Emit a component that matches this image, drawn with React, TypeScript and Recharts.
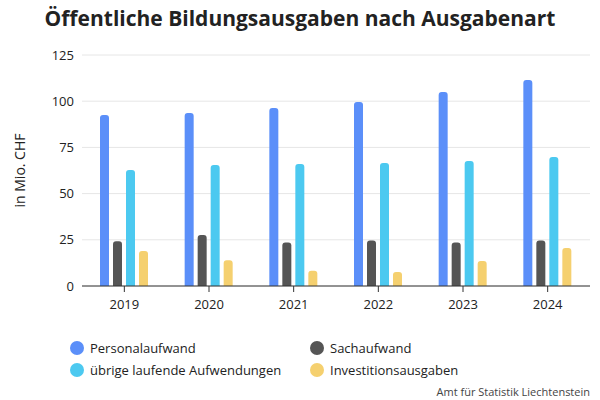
import React from "react";
import { BarChart, Bar, XAxis, YAxis, CartesianGrid } from "recharts";

const years = ["2019", "2020", "2021", "2022", "2023", "2024"];
const personal = [92.5, 93.6, 96.3, 99.6, 105, 111.5];
const sach = [24.2, 27.6, 23.6, 24.6, 23.6, 24.6];
const uebrige = [62.8, 65.5, 66, 66.6, 67.6, 69.8];
const invest = [19, 14, 8.2, 7.6, 13.5, 20.6];
const yTicks = [0, 25, 50, 75, 100, 125];

const series = [
  { key: "personal", name: "Personalaufwand", color: "#5b8ff9" },
  { key: "sach", name: "Sachaufwand", color: "#555555" },
  { key: "uebrige", name: "übrige laufende Aufwendungen", color: "#4cc9f0" },
  { key: "invest", name: "Investitionsausgaben", color: "#f5d06f" },
];

const data = years.map((y, i) => ({
  year: y,
  personal: personal[i],
  sach: sach[i],
  uebrige: uebrige[i],
  invest: invest[i],
}));

const font = "'Open Sans', 'Noto Sans', sans-serif";

function LegendBox() {
  return (
    <div
      style={{
        position: "absolute",
        top: 339,
        left: 70,
        display: "grid",
        gridTemplateColumns: "240px 240px",
        rowGap: 4,
        fontSize: 13,
        color: "#222",
      }}
    >
      {series.map((s) => (
        <div key={s.key} style={{ display: "flex", alignItems: "center" }}>
          <span
            style={{
              width: 14,
              height: 14,
              borderRadius: 7,
              background: s.color,
              display: "inline-block",
              marginRight: 6,
            }}
          />
          {s.name}
        </div>
      ))}
    </div>
  );
}

export default function App() {
  return (
    <div style={{ position: "absolute", left: 0, top: 0, width: 600, height: 400, background: "#fff", fontFamily: font }}>
      <div style={{ position: "absolute", top: 4, width: 600, textAlign: "center", fontSize: 21, fontWeight: 700, color: "#222" }}>
        Öffentliche Bildungsausgaben nach Ausgabenart
      </div>
      <BarChart
        width={600}
        height={330}
        data={data}
        margin={{ top: 55, right: 10, left: 10, bottom: 14 }}
        barGap={4}
        barCategoryGap="30%"
      >
        <CartesianGrid vertical={false} stroke="#e6e6e6" />
        <XAxis
          dataKey="year"
          tick={{ fill: "#222", fontSize: 13 }}
          axisLine={{ stroke: "#333" }}
          tickLine={{ stroke: "#333" }}
          tickMargin={8}
          height={30}
        />
        <YAxis
          domain={[0, 125]}
          ticks={yTicks}
          tick={{ fill: "#222", fontSize: 13 }}
          axisLine={false}
          tickLine={false}
          width={72}
          label={{ value: "in Mio. CHF", angle: -90, position: "insideLeft", offset: 10, style: { fill: "#222", fontSize: 14, textAnchor: "middle" } }}
        />
        {series.map((s) => (
          <Bar key={s.key} dataKey={s.key} name={s.name} fill={s.color} barSize={9} radius={[3, 3, 0, 0]} isAnimationActive={false} />
        ))}
      </BarChart>
      <LegendBox />
      <div style={{ position: "absolute", right: 10, top: 384, fontSize: 11, color: "#444" }}>
        Amt für Statistik Liechtenstein
      </div>
    </div>
  );
}
